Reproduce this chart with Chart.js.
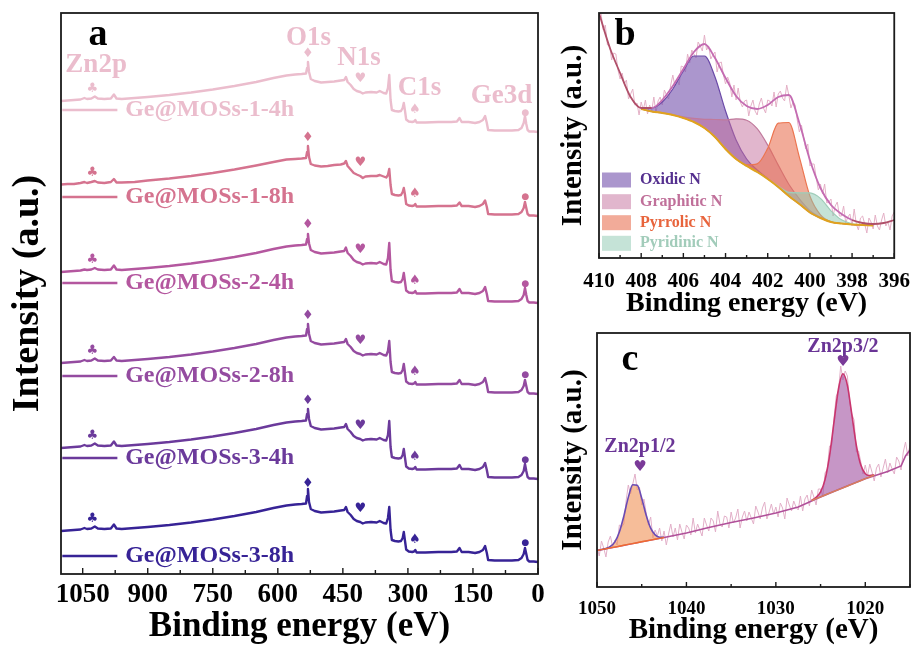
<!DOCTYPE html>
<html lang="pt-BR">
<head>
<meta charset="utf-8">
<title>XPS Ge@MOSs</title>
<script src="https://cdn.jsdelivr.net/npm/chart.js@4.4.1/dist/chart.umd.min.js"></script>
<style>
  body { margin: 0; background: #fff; }
  #tela { position: relative; width: 921px; height: 647px; overflow: hidden; }
  canvas { position: absolute; }
</style>
</head>
<body>
<div id="tela">
  <canvas id="graficoSurvey" width="555" height="647" style="left:0;top:0"></canvas>
  <canvas id="graficoN1s" width="373" height="320" style="left:548px;top:0"></canvas>
  <canvas id="graficoZn2p" width="373" height="327" style="left:548px;top:320px"></canvas>
</div>
<script>
// ========== DADOS ==========

// (a) Espectros survey (intensidade relativa ao fim de cada curva)
const energiaSurvey = [1100,1085,1070,1055,1046,1040,1030,1022,1015,1000,985,978,972,960,930,900,850,800,750,700,650,610,580,560,545,535,532.5,530.5,528,524,515,500,485,470,455,447,443,439,432,425,418,410,404,398,385,372,365,356,350,346,343,340,337,330,322,316,312,309.5,307,304,298,290,286,283,280,260,230,200,187,181,176,160,145,135,127,122,118,115,100,80,60,45,38,33,30,27,24,20,10,0];

const survey1_4h = [31,31.5,32,32.5,34,33,33.5,35.5,33.5,33,33.5,37.5,33.5,33,34,35,37,39.5,42.5,46,50,54,56.5,57.5,58,58.5,64,70,60,53,51,49.5,50,50.5,51.5,52,55,50,47,43,41,40,38.5,39.5,40,39.5,41,39,38.5,44,57,32,22,21,20.5,21,24,29,22,12.5,10.5,10,10.5,12,9.5,9.5,10,10,10.5,14,10,10,9,10,12,16,9,2,1.5,1.5,1.5,2,4,9,16,8,2,0.5,0.5,0];
const survey1_8h = [31.5,32,32,33,34,33,34,35,33.5,33,34,37,33.5,33.5,34,35.5,37.5,40,43,46.5,50.5,54,56.5,57,57.5,58,64,70,59,52,50.5,49.5,50,51,51.5,52.5,55,50,46.5,43,41.5,40,38,39.5,40,40,41,39.5,38.5,41,47,31,22,21,20.5,21,24,28,22,12,10.5,10,10.5,12,9.5,9.5,10,10,10.5,13.5,10,10,9,10,12,15.5,9,2,1.5,1.5,1.5,2,4,8,14,8,2,0.5,0.5,0];
const survey2_4h = [31,31.5,32,32.5,33.5,33,33.5,35,33.5,33,33.5,37.5,33.5,33,34,35,37,39.5,42.5,46,50,54,56.5,57.5,58,58.5,64,69,59.5,53,51,49.5,50,50.5,51.5,52,55.5,50,47,43,41,40,38.5,39.5,40,39.5,41,39,38.5,45,60,33,22,21,20.5,21,24,30,22,12.5,10.5,10,10.5,12,9.5,9.5,10,10,10.5,14,10,10,9,10,12,16,9,2,1.5,1.5,1.5,2,4,8,15,8,2,0.5,0.5,0];
const survey2_8h = [31,31.5,32,32.5,34,33,33.5,35.5,33.5,33,33.5,37,33.5,33,34,35,37,39.5,42.5,46,50,54,56.5,57.5,58,58.5,65,70,60,53,51,49.5,50,50.5,51.5,52,55,50,47,43,41,40,38.5,39.5,40,39.5,41,39,38.5,43,53,32,22,21,20.5,21,24,30,22,12.5,10.5,10,10.5,12,9.5,9.5,10,10,10.5,14,10,10,9,10,12,16,9,2,1.5,1.5,1.5,2,4,8,14,8,2,0.5,0.5,0];
const survey3_4h = [31,31.5,32,32.5,34,33,33.5,35.5,33.5,33,33.5,37.5,33.5,33,34,35,37,39.5,42.5,46,50,54,56.5,57.5,58,58.5,65,70,60,53,51,49.5,50,50.5,51.5,52,55,50,47,43,41,40,38.5,39.5,40,39.5,41,39,38.5,44,58,32,22,21,20.5,21,24,30,22,12.5,10.5,10,10.5,12,9.5,9.5,10,10,10.5,14,10,10,9,10,12,16,9,2,1.5,1.5,1.5,2,4,8,15,8,2,0.5,0.5,0];
const survey3_8h = [31,31.5,32,32.5,34,33,33.5,35.5,33.5,33,33.5,37.5,33.5,33,34,35,37,39.5,42.5,46,50,54,56.5,57.5,58,58.5,66,73,60,53,51,49.5,50,50.5,51.5,52,55,50,47,43,41,40,38.5,39.5,40,39.5,41,39,38.5,44,55,32,22,21,20.5,21,24,30,22,12.5,10.5,10,10.5,12,9.5,9.5,10,10,10.5,14,10,10,9,10,12,16,9,2,1.5,1.5,1.5,2,4,8,14,8,2,0.5,0.5,0];

const amostras = ['Ge@MOSs-1-4h', 'Ge@MOSs-1-8h', 'Ge@MOSs-2-4h', 'Ge@MOSs-2-8h', 'Ge@MOSs-3-4h', 'Ge@MOSs-3-8h'];
const deslocamentos = [442, 358, 271, 180, 95, 12];
const niveisLegenda = [22, 19, 20, 18, 21, 6];

const rotulosPicos = ['Zn2p', 'O1s', 'N1s', 'C1s', 'Ge3d'];
const energiaRotulos = [1019, 529, 413, 273, 84];
const nivelRotulos = [67, 94, 74, 44, 36];

const simbolosPicos = ['♣', '♦', '♥', '♠', '●'];
const energiaSimbolos = [1028, 531, 410, 284, 29];
const nivelSimbolos = [43, 78, 53, 22, 19];

const ticksSurvey = [1050, 900, 750, 600, 450, 300, 150, 0];

// (b) N1s de alta resolução
const energiaEnvelopeN = [410,409.5,409,408.5,408,407.5,407,406.5,406,405.5,405,404.5,404,403.5,403,402.5,402,401.5,401,400.5,400,399.5,399,398.5,398,397.5,397,396.5,396];
const envelopeN = [245,211,185,161,150,150,158,172,189,206,214,200,180,162,152,149,153,161,163,135,98,70,53,44,38,35,34,35,38];

const energiaCompN = [408,407.5,407,406.5,406,405.5,405,404.5,404,403.5,403,402.5,402,401.5,401,400.5,400,399.5,399,398.5,398,397.5,397];
const fundoN = [149,146.5,145,143,140,136,130,121,109,99,92,86,79,71,62,54,45.5,40,36,34.5,33.5,33,32.5];
const oxidicN = [150,150,156,169,187,202,202,181,147,118,99,88,79.5,71,62,54,45.5,40,36,34.5,33.5,33,32.5];
const graphiticN = [149,146.5,145.1,143.3,141.2,139.6,138.7,138.5,138.1,139.2,137.8,129.3,112.9,92.9,73.8,59.2,47.4,40.6,36.2,34.5,33.5,33,32.5];
const pyrrolicN = [149,146.5,145,143,140,136,130,121,109,99.1,93.2,94.1,109.6,134.8,135.5,100.9,62,43.2,36.3,34.5,33.5,33,32.5];
const pyridinicN = [149,146.5,145,143,140,136,130,121,109,99,92,86,79.1,71.7,65.7,65.2,65.1,59.6,47.2,38.2,34.2,33.1,32.5];

const energiaBrutaN = [
  410,409.9,409.8,409.7,409.6,409.5,409.4,409.3,409.2,409.1,
  409,408.9,408.8,408.7,408.6,408.5,408.4,408.3,408.2,408.1,
  408,407.9,407.8,407.7,407.6,407.5,407.4,407.3,407.2,407.1,
  407,406.9,406.8,406.7,406.6,406.5,406.4,406.3,406.2,406.1,
  406,405.9,405.8,405.7,405.6,405.5,405.4,405.3,405.2,405.1,
  405,404.9,404.8,404.7,404.6,404.5,404.4,404.3,404.2,404.1,
  404,403.9,403.8,403.7,403.6,403.5,403.4,403.3,403.2,403.1,
  403,402.9,402.8,402.7,402.6,402.5,402.4,402.3,402.2,402.1,
  402,401.9,401.8,401.7,401.6,401.5,401.4,401.3,401.2,401.1,
  401,400.9,400.8,400.7,400.6,400.5,400.4,400.3,400.2,400.1,
  400,399.9,399.8,399.7,399.6,399.5,399.4,399.3,399.2,399.1,
  399,398.9,398.8,398.7,398.6,398.5,398.4,398.3,398.2,398.1,
  398,397.9,397.8,397.7,397.6,397.5,397.4,397.3,397.2,397.1,
  397,396.9,396.8,396.7,396.6,396.5,396.4,396.3,396.2,396.1,
  396];
const brutoN = [
  245,244,228,233,213,213,198,205,204,188,
  179,185,174,178,159,164,169,153,155,143,
  156,148,158,144,153,147,161,145,157,161,
  153,168,163,159,173,183,172,179,173,192,
  191,186,204,195,208,204,200,216,212,207,
  223,208,212,199,203,206,186,195,196,183,
  174,181,175,161,173,158,170,156,151,157,
  158,142,152,158,147,143,154,160,150,145,
  158,157,152,166,151,164,167,160,157,173,
  163,150,156,153,138,126,133,121,109,114,
  92,94,94,80,68,74,64,74,55,56,
  59,42,52,56,42,42,52,35,41,44,
  32,49,34,28,40,42,34,25,40,36,
  29,43,32,28,38,45,32,36,28,42,
  46];

const nomesComponentes = ['Oxidic N', 'Graphitic N', 'Pyrrolic N', 'Pyridinic N'];
const ticksN = [410, 408, 406, 404, 402, 400, 398, 396];

// (c) Zn2p de alta resolução
const energiaFundoZn = [1050,1047.5,1045,1042.5,1040,1037.5,1035,1032.5,1030,1027.5,1025,1022.5,1020,1017.5,1016,1015.5,1015];
const fundoZn = [36.5,40.8,45.2,49.5,54,59.5,64.5,69,74,80,90,99.2,108.3,115.5,121,131,137];

const energiaPico1 = [1050,1049.5,1049,1048.5,1048,1047.5,1047,1046.5,1046,1045.5,1045,1044.5,1044,1043.5,1043,1042.5];
const base1 = [36.5,37.4,38.2,39.1,39.9,40.8,41.7,42.6,43.4,44.3,45.2,46,46.9,47.8,48.6,49.5];
const pico1 = [36.5,37.5,38.6,40.7,45.2,55,70.9,89.6,102.2,101.7,88.8,71.8,58.8,52.1,49.8,49.7];

const energiaPico2 = [1026,1025.5,1025,1024.5,1024,1023.5,1023,1022.5,1022,1021.5,1021,1020.5,1020,1019.5,1019];
const base2 = [86.5,88.3,90.1,92,93.8,95.6,97.4,99.2,101,102.9,104.7,106.5,108.3,110.2,112];
const pico2 = [86.8,89.6,95.1,107.4,130.8,164.8,198,213.2,201.6,172.1,141.7,121.9,113.3,111.5,112.3];

const energiaBrutaZn = [
  1050,1049.75,1049.5,1049.25,1049,1048.75,1048.5,1048.25,1048,1047.75,
  1047.5,1047.25,1047,1046.75,1046.5,1046.25,1046,1045.75,1045.5,1045.25,
  1045,1044.75,1044.5,1044.25,1044,1043.75,1043.5,1043.25,1043,1042.75,
  1042.5,1042.25,1042,1041.75,1041.5,1041.25,1041,1040.75,1040.5,1040.25,
  1040,1039.75,1039.5,1039.25,1039,1038.75,1038.5,1038.25,1038,1037.75,
  1037.5,1037.25,1037,1036.75,1036.5,1036.25,1036,1035.75,1035.5,1035.25,
  1035,1034.75,1034.5,1034.25,1034,1033.75,1033.5,1033.25,1033,1032.75,
  1032.5,1032.25,1032,1031.75,1031.5,1031.25,1031,1030.75,1030.5,1030.25,
  1030,1029.75,1029.5,1029.25,1029,1028.75,1028.5,1028.25,1028,1027.75,
  1027.5,1027.25,1027,1026.75,1026.5,1026.25,1026,1025.75,1025.5,1025.25,
  1025,1024.75,1024.5,1024.25,1024,1023.75,1023.5,1023.25,1023,1022.75,
  1022.5,1022.25,1022,1021.75,1021.5,1021.25,1021,1020.75,1020.5,1020.25,
  1020,1019.75,1019.5,1019.25,1019,1018.75,1018.5,1018.25,1018,1017.75,
  1017.5,1017.25,1017,1016.75,1016.5,1016.25,1016,1015.75,1015.5,1015.25,
  1015];
const brutoZn = [
  40,31,46,39,30,45,51,40,47,42,
  62,60,63,86,102,93,103,113,97,100,
  82,88,74,62,70,49,57,51,59,46,
  56,42,53,63,50,59,47,63,55,48,
  62,59,52,69,54,63,57,51,69,62,
  56,69,66,55,76,63,60,71,70,59,
  75,64,69,78,59,70,76,66,75,69,
  63,81,75,68,79,85,68,75,83,73,
  80,70,84,79,68,89,82,76,86,80,
  77,91,76,88,92,81,97,90,82,98,
  98,91,114,118,141,142,169,191,196,221,
  207,216,211,185,173,167,135,136,125,113,
  122,111,123,115,106,119,123,110,119,128,
  114,124,118,113,130,126,117,135,145,131,
  142];

const rotulosZn = ['Zn2p1/2', 'Zn2p3/2'];
const energiaRotulosZn = [1045.2, 1022.5];
const nivelRotulosZn = [140, 240];
const nivelCoracaoZn = [120, 225];

// ========== ESTILO ==========
const coresAmostras = ['#EBBDCD', '#D5738F', '#B4579F', '#944BA0', '#6B3A9B', '#372396'];
const corRotulosPicos = '#EBBDCD';
const coresComp = {
    linha: ['#6B4AA8', '#C07A9C', '#EC7550', '#9FCDB9'],
    fundo: ['rgba(120,85,175,0.62)', 'rgba(195,110,155,0.5)', 'rgba(232,110,80,0.58)', 'rgba(140,200,175,0.5)'],
    texto: ['#55308F', '#C0709A', '#E8643C', '#A2CCBA']
};
const fonteSerif = '"Liberation Serif", "Times New Roman", serif';

Chart.defaults.font.family = fonteSerif;
Chart.defaults.font.weight = 'bold';
Chart.defaults.color = '#000';

function pontos(xs, ys) {
    return xs.map((x, i) => ({ x: x, y: ys[i] }));
}

// Moldura e ticks internos (maiores e menores)
const moldura = {
    id: 'moldura',
    afterDraw(chart, args, opts) {
        const { ctx, chartArea: a } = chart;
        const x = chart.scales.x;
        ctx.save();
        ctx.strokeStyle = '#1b1b1b';
        ctx.lineWidth = 1.4;
        x.ticks.forEach(t => {
            const px = x.getPixelForValue(t.value);
            const maior = Math.abs(t.value % opts.passoMaior) < 1e-6;
            ctx.beginPath();
            ctx.moveTo(px, a.bottom);
            ctx.lineTo(px, a.bottom - (maior ? opts.tickMaior : opts.tickMenor));
            ctx.stroke();
        });
        ctx.lineWidth = 1.8;
        ctx.strokeRect(a.left, a.top, a.right - a.left, a.bottom - a.top);
        ctx.restore();
    }
};

function eixoX(min, max, passo, passoMaior, fonteTick, padTick, fonteTitulo, padTitulo, altura) {
    return {
        type: 'linear', min: min, max: max, reverse: true,
        ticks: {
            stepSize: passo, autoSkip: false, includeBounds: false, maxRotation: 0, minRotation: 0,
            padding: padTick, color: '#000',
            font: { size: fonteTick, weight: 'bold' },
            callback: v => (Math.abs(v % passoMaior) < 1e-6 ? v : '')
        },
        grid: { display: false, drawTicks: false },
        border: { display: false },
        title: {
            display: true, text: 'Binding energy (eV)', color: '#000',
            font: { size: fonteTitulo, weight: 'bold', lineHeight: 1 },
            padding: { top: 0, bottom: padTitulo }
        },
        afterFit: s => { s.height = altura; }
    };
}

function eixoY(max, fonteTitulo, padTitulo, largura) {
    return {
        type: 'linear', min: 0, max: max, position: 'left',
        ticks: { display: false },
        grid: { display: false, drawTicks: false },
        border: { display: false },
        title: {
            display: true, text: 'Intensity (a.u.)', color: '#000',
            font: { size: fonteTitulo, weight: 'bold', lineHeight: 1 },
            padding: { top: padTitulo, bottom: 0 }
        },
        afterFit: s => { s.width = largura; }
    };
}

// ========== (a) SURVEY ==========
function criarGraficoSurvey() {
    const series = [survey1_4h, survey1_8h, survey2_4h, survey2_8h, survey3_4h, survey3_8h];
    const escalas = {
        x: eixoX(0, 1100, 75, 150, 27, 5, 35, 2.5, 73),
        y: eixoY(561, 38, 9, 61)
    };
    deslocamentos.forEach((d, i) => {
        escalas['y' + i] = { type: 'linear', display: false, min: -d, max: 561 - d };
    });

    const decoracao = {
        id: 'decoracaoSurvey',
        afterDatasetsDraw(chart) {
            const ctx = chart.ctx;
            const x = chart.scales.x;
            const a = chart.chartArea;
            ctx.save();
            ctx.textBaseline = 'middle';
            amostras.forEach((nome, i) => {
                const ys = chart.scales['y' + i];
                const y = ys.getPixelForValue(niveisLegenda[i]);
                ctx.strokeStyle = coresAmostras[i];
                ctx.lineWidth = 2.5;
                ctx.beginPath();
                ctx.moveTo(x.getPixelForValue(1097), y);
                ctx.lineTo(x.getPixelForValue(970), y);
                ctx.stroke();
                ctx.fillStyle = coresAmostras[i];
                ctx.textAlign = 'left';
                ctx.font = 'bold 24px ' + fonteSerif;
                ctx.fillText(nome, x.getPixelForValue(952), y);

                ctx.textAlign = 'center';
                simbolosPicos.forEach((s, k) => {
                    ctx.font = (s === '●' ? '9px' : '13px') + ' "DejaVu Sans"';
                    ctx.fillText(s, x.getPixelForValue(energiaSimbolos[k]), ys.getPixelForValue(nivelSimbolos[k]));
                });
            });
            ctx.fillStyle = corRotulosPicos;
            ctx.textAlign = 'center';
            ctx.font = 'bold 27px ' + fonteSerif;
            rotulosPicos.forEach((r, k) => {
                ctx.fillText(r, x.getPixelForValue(energiaRotulos[k]), chart.scales.y0.getPixelForValue(nivelRotulos[k]));
            });
            ctx.fillStyle = '#000';
            ctx.textBaseline = 'alphabetic';
            ctx.font = 'bold 38px ' + fonteSerif;
            ctx.fillText('a', a.left + 37, a.top + 32);
            ctx.restore();
        }
    };

    new Chart(document.getElementById('graficoSurvey'), {
        type: 'line',
        data: {
            datasets: series.map((s, i) => ({
                label: amostras[i],
                data: pontos(energiaSurvey, s),
                yAxisID: 'y' + i,
                borderColor: coresAmostras[i],
                borderWidth: 2.4,
                borderJoinStyle: 'round',
                pointRadius: 0,
                tension: 0,
                fill: false
            }))
        },
        options: {
            responsive: false,
            animation: false,
            events: [],
            layout: { padding: { top: 13, right: 17, left: 0, bottom: 0 } },
            scales: escalas,
            plugins: {
                legend: { display: false },
                tooltip: { enabled: false },
                moldura: { passoMaior: 150, tickMaior: 6, tickMenor: 4 }
            }
        },
        plugins: [moldura, decoracao]
    });
}

// ========== (b) N1s ==========
function criarGraficoN1s() {
    const componentes = [oxidicN, graphiticN, pyrrolicN, pyridinicN];
    const datasets = [
        {
            data: pontos(energiaEnvelopeN, envelopeN),
            borderColor: '#C46CB2', borderWidth: 1.8, pointRadius: 0,
            cubicInterpolationMode: 'monotone', order: 1,
            segment: {
                borderColor: c => (c.p0.parsed.x > 407.9 || c.p1.parsed.x < 397.6 ? '#B0506A' : '#C46CB2')
            }
        },
        {
            data: pontos(energiaCompN, fundoN),
            borderColor: '#E0A21E', borderWidth: 2, pointRadius: 0,
            cubicInterpolationMode: 'monotone', order: 2
        }
    ];
    componentes.forEach((c, i) => {
        datasets.push({
            label: nomesComponentes[i],
            data: pontos(energiaCompN, c),
            borderColor: coresComp.linha[i], borderWidth: 1.2, pointRadius: 0,
            backgroundColor: coresComp.fundo[i],
            fill: 1,
            cubicInterpolationMode: 'monotone', order: 6 - i
        });
    });
    datasets.push({
        data: pontos(energiaBrutaN, brutoN),
        borderColor: '#E4B0C6', borderWidth: 1, pointRadius: 0, tension: 0, order: 10
    });

    const decoracao = {
        id: 'decoracaoN1s',
        afterDatasetsDraw(chart) {
            const ctx = chart.ctx;
            const a = chart.chartArea;
            const linhas = [167, 188.7, 209.7, 230.3];
            ctx.save();
            ctx.textBaseline = 'middle';
            ctx.textAlign = 'left';
            ctx.font = 'bold 16px ' + fonteSerif;
            nomesComponentes.forEach((nome, i) => {
                const y = a.top + linhas[i];
                ctx.fillStyle = '#fff';
                ctx.fillRect(a.left + 3, y - 7.5, 29, 15);
                ctx.fillStyle = coresComp.fundo[i];
                ctx.fillRect(a.left + 3, y - 7.5, 29, 15);
                ctx.fillStyle = coresComp.texto[i];
                ctx.fillText(nome, a.left + 41, y);
            });
            ctx.fillStyle = '#000';
            ctx.textAlign = 'center';
            ctx.textBaseline = 'alphabetic';
            ctx.font = 'bold 38px ' + fonteSerif;
            ctx.fillText('b', a.left + 26, a.top + 32);
            ctx.restore();
        }
    };

    new Chart(document.getElementById('graficoN1s'), {
        type: 'line',
        data: { datasets: datasets },
        options: {
            responsive: false,
            animation: false,
            events: [],
            layout: { padding: { top: 13, right: 17, left: 0, bottom: 0 } },
            scales: {
                x: eixoX(396, 410, 1, 2, 21, 11, 28, 2, 62),
                y: eixoY(245, 29, 11.5, 51)
            },
            plugins: {
                legend: { display: false },
                tooltip: { enabled: false },
                moldura: { passoMaior: 2, tickMaior: 5, tickMenor: 3 }
            }
        },
        plugins: [moldura, decoracao]
    });
}

// ========== (c) Zn2p ==========
function criarGraficoZn2p() {
    const datasets = [
        {
            data: pontos(energiaFundoZn, fundoZn),
            borderColor: '#B0509A', borderWidth: 1.6, pointRadius: 0, tension: 0, order: 6
        },
        {
            data: pontos(energiaPico1, base1),
            borderColor: '#F06A30', borderWidth: 1.4, pointRadius: 0, tension: 0, order: 2
        },
        {
            data: pontos(energiaPico2, base2),
            borderColor: '#D98058', borderWidth: 1.4, pointRadius: 0, tension: 0, order: 2
        },
        {
            label: 'Zn2p1/2',
            data: pontos(energiaPico1, pico1),
            borderColor: '#6A4BB4', borderWidth: 1.6, pointRadius: 0,
            backgroundColor: 'rgba(240,145,85,0.6)', fill: 1,
            cubicInterpolationMode: 'monotone', order: 4
        },
        {
            label: 'Zn2p3/2',
            data: pontos(energiaPico2, pico2),
            borderColor: '#C9356E', borderWidth: 1.6, pointRadius: 0,
            backgroundColor: 'rgba(160,80,160,0.6)', fill: 2,
            cubicInterpolationMode: 'monotone', order: 4
        },
        {
            data: pontos(energiaBrutaZn, brutoZn),
            borderColor: '#E2AFC8', borderWidth: 1, pointRadius: 0, tension: 0, order: 10
        }
    ];

    const decoracao = {
        id: 'decoracaoZn2p',
        afterDatasetsDraw(chart) {
            const ctx = chart.ctx;
            const a = chart.chartArea;
            const x = chart.scales.x;
            const y = chart.scales.y;
            ctx.save();
            ctx.textAlign = 'center';
            ctx.textBaseline = 'middle';
            rotulosZn.forEach((r, i) => {
                const px = x.getPixelForValue(energiaRotulosZn[i]);
                ctx.fillStyle = '#6A3596';
                ctx.font = 'bold 20px ' + fonteSerif;
                ctx.fillText(r, px, y.getPixelForValue(nivelRotulosZn[i]));
                ctx.fillStyle = '#7A3A98';
                ctx.font = '15px "DejaVu Sans"';
                ctx.fillText('♥', px, y.getPixelForValue(nivelCoracaoZn[i]));
            });
            ctx.fillStyle = '#000';
            ctx.textBaseline = 'alphabetic';
            ctx.font = 'bold 38px ' + fonteSerif;
            ctx.fillText('c', a.left + 33, a.top + 37);
            ctx.restore();
        }
    };

    new Chart(document.getElementById('graficoZn2p'), {
        type: 'line',
        data: { datasets: datasets },
        options: {
            responsive: false,
            animation: false,
            events: [],
            layout: { padding: { top: 13, right: 8, left: 0, bottom: 0 } },
            scales: {
                x: eixoX(1015, 1050, 5, 10, 19, 11, 29, 1.5, 60),
                y: eixoY(254, 29, 11.5, 49)
            },
            plugins: {
                legend: { display: false },
                tooltip: { enabled: false },
                moldura: { passoMaior: 10, tickMaior: 5, tickMenor: 3 }
            }
        },
        plugins: [moldura, decoracao]
    });
}

criarGraficoSurvey();
criarGraficoN1s();
criarGraficoZn2p();
</script>
</body>
</html>
